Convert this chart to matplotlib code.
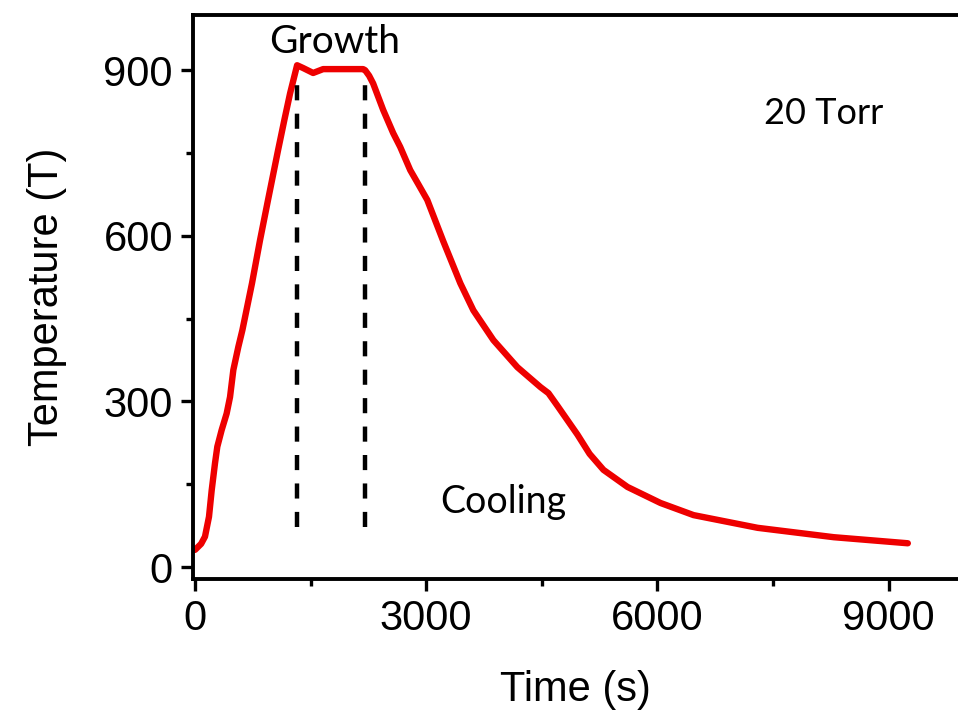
import matplotlib
matplotlib.use("Agg")
import matplotlib.pyplot as plt
from matplotlib.ticker import MultipleLocator

# temperature profile (time in s, temperature)
time_s = [0, 22, 80, 130, 182, 217, 260, 290, 346, 411, 455, 498, 563,
          615, 740, 844, 948, 1078, 1160, 1234, 1300, 1325, 1403, 1533,
          1663, 2182, 2208, 2260, 2312, 2442, 2572, 2663, 2793, 2900, 3014,
          3222, 3443, 3612, 3872, 4183, 4482, 4586, 4703, 4962, 5120, 5300,
          5612, 6040, 6469, 7300, 8288, 9249]
temp = [31, 34, 42, 55, 91, 139, 188, 218, 248, 278, 308, 357, 399,
        429, 514, 592, 665, 755, 810, 858, 895, 909, 904, 895,
        902, 902, 900, 890, 876, 828, 786, 761, 719, 693, 665,
        590, 514, 465, 411, 362, 326, 315, 292, 240, 205, 176,
        145, 116, 94, 71, 54, 43]

growth_start = 1325
growth_end = 2208
dash_bottom = 72
dash_top = 895

fig = plt.figure(figsize=(9.58, 7.15), dpi=100)
ax = fig.add_axes([0.2015, 0.19, 0.7985, 0.789])

ax.plot(time_s, temp, color="#ee0000", lw=4.6, solid_capstyle="round",
        solid_joinstyle="round")
ax.vlines([growth_start, growth_end], dash_bottom, dash_top, colors="black",
          linestyles=(0, (3.4, 3.0)), lw=3.2)

ax.set_xlim(-25, 9900)
ax.set_ylim(-22, 1000)
ax.xaxis.set_major_locator(MultipleLocator(3000))
ax.xaxis.set_minor_locator(MultipleLocator(1500))
ax.yaxis.set_major_locator(MultipleLocator(300))
ax.yaxis.set_minor_locator(MultipleLocator(150))

for side in ["left", "bottom", "top"]:
    ax.spines[side].set_linewidth(2.8)
ax.spines["right"].set_visible(False)
ax.tick_params(which="major", length=8.5, width=2.4, direction="out", pad=6)
ax.tick_params(which="minor", length=5, width=2.4, direction="out")
for lbl in ax.get_xticklabels() + ax.get_yticklabels():
    lbl.set_family("Liberation Sans")
    lbl.set_fontsize(30)

ax.set_xlabel("Time (s)", family="Liberation Sans", fontsize=30, labelpad=22)
ax.set_ylabel("Temperature (T)", family="Liberation Sans", fontsize=30, labelpad=26)

ax.text(1818, 951, "Growth", family="Lato", fontsize=28, ha="center", va="center")
ax.text(8156, 822, "20 Torr", family="Lato", fontsize=26, ha="center", va="center")
ax.text(4000, 118, "Cooling", family="Lato", fontsize=27, ha="center", va="center")

fig.savefig("out.png", dpi=100)
